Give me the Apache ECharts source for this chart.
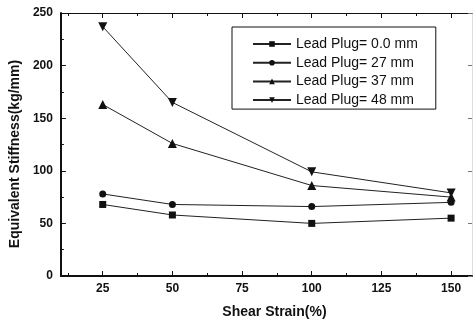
<!DOCTYPE html>
<html>
<head>
<meta charset="utf-8">
<script src="https://cdn.jsdelivr.net/npm/echarts@6/dist/echarts.min.js"></script>
<style>html,body{margin:0;padding:0;background:#fff}#c{width:473px;height:324px}</style>
</head>
<body>
<div id="c"></div>
<script>
var shearStrain = [25, 50, 100, 150];
var plug00 = [68, 58, 50, 55];
var plug27 = [78, 68, 66, 70];
var plug37 = [163, 126, 86, 75];
var plug48 = [237, 165, 99, 79];
var seriesNames = ['Lead Plug= 0.0 mm', 'Lead Plug= 27 mm', 'Lead Plug= 37 mm', 'Lead Plug= 48 mm'];
var xMajorTicks = [25, 50, 75, 100, 125, 150];
var xMinorTicks = [12.5, 37.5, 62.5, 87.5, 112.5, 137.5];

function pairs(ys) { return shearStrain.map(function (x, i) { return [x, ys[i]]; }); }

var font = 'Liberation Sans, Arial, sans-serif';
var chart = echarts.init(document.getElementById('c'), null, {renderer: 'canvas'});
var baseX = {type: 'value', min: 10, max: 157.5, splitLine: {show: false}};
function xAx(pos, ticks, len, showLine, lw, labels) {
  return Object.assign({}, baseX, {
    position: pos,
    axisLine: {show: showLine, onZero: false, lineStyle: {color: '#111', width: lw}},
    axisTick: {show: true, inside: true, length: len, customValues: ticks, lineStyle: {color: '#111', width: 1}},
    axisLabel: labels ? {show: true, customValues: xMajorTicks, color: '#111', fontSize: 12, fontWeight: 'bold', fontFamily: font, margin: 7} : {show: false}
  });
}
var xMain = xAx('bottom', xMajorTicks, 5, true, 2, true);
xMain.name = 'Shear Strain(%)';
xMain.nameLocation = 'middle';
xMain.nameGap = 29;
xMain.nameTextStyle = {color: '#111', fontSize: 14, fontWeight: 'bold', fontFamily: font, padding: [0, 0, 0, 16]};

chart.setOption({
  animation: false,
  backgroundColor: '#fff',
  grid: {left: 56, right: 1, top: 13, bottom: 42, containLabel: false},
  legend: {
    orient: 'vertical', left: 232, top: 27,
    padding: [10, 18, 2, 20],
    itemWidth: 38, itemHeight: 7, itemGap: 4.7,
    borderColor: '#111', borderWidth: 1,
    textStyle: {color: '#111', fontSize: 14, fontFamily: font},
    data: seriesNames
  },
  xAxis: [
    xMain,
    xAx('bottom', xMinorTicks, 3, false, 1, false),
    xAx('top', xMajorTicks, 5, true, 1, false),
    xAx('top', xMinorTicks, 3, false, 1, false)
  ],
  yAxis: [
    {
      type: 'value', min: 0, max: 250, interval: 50, position: 'left',
      name: 'Equivalent Stiffness(kg/mm)', nameLocation: 'middle', nameGap: 30,
      nameTextStyle: {color: '#111', fontSize: 14, fontWeight: 'bold', fontFamily: font, padding: [0, 19, 0, 0]},
      axisLine: {show: true, onZero: false, lineStyle: {color: '#111', width: 2}},
      axisTick: {show: true, inside: true, length: 5, lineStyle: {color: '#111'}},
      minorTick: {show: true, splitNumber: 2, length: 3, lineStyle: {color: '#111'}},
      axisLabel: {color: '#111', fontSize: 12, fontWeight: 'bold', fontFamily: font, margin: 8},
      splitLine: {show: false}
    },
    {
      type: 'value', min: 0, max: 250, interval: 50, position: 'right',
      axisLine: {show: true, onZero: false, lineStyle: {color: '#ddd', width: 1}},
      axisTick: {show: true, inside: true, length: 4, lineStyle: {color: '#777'}},
      axisLabel: {show: false},
      splitLine: {show: false}
    }
  ],
  series: [
    {name: seriesNames[0], type: 'line', data: pairs(plug00), symbol: 'rect', symbolSize: 7,
     lineStyle: {color: '#222', width: 1}, itemStyle: {color: '#111'}},
    {name: seriesNames[1], type: 'line', data: pairs(plug27), symbol: 'circle', symbolSize: 7,
     lineStyle: {color: '#222', width: 1}, itemStyle: {color: '#111'}},
    {name: seriesNames[2], type: 'line', data: pairs(plug37), symbol: 'triangle', symbolSize: 9,
     lineStyle: {color: '#222', width: 1}, itemStyle: {color: '#111'}},
    {name: seriesNames[3], type: 'line', data: pairs(plug48), symbol: 'triangle', symbolRotate: 180, symbolSize: 9,
     lineStyle: {color: '#222', width: 1}, itemStyle: {color: '#111'}}
  ]
});
</script>
</body>
</html>
